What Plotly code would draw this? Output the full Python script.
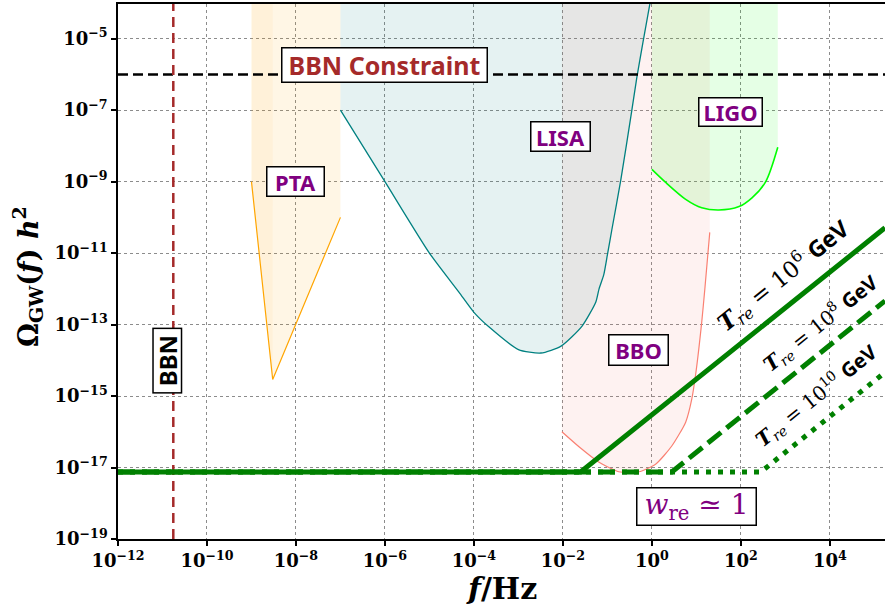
import plotly.graph_objects as go

# ---------------- data ----------------
# Sensitivity curves: frequency [Hz] and Omega_GW h^2
pta_f = [1e-9, 3.0e-9, 1e-7]
pta_omega = [1e-9, 2.9e-15, 1e-10]

lisa_f = [1e-7, 1e-6, 1e-5, 4.6e-5, 1e-4, 2.2e-4, 1e-3, 3.2e-3, 9.1e-3, 2.7e-2,
          5.5e-2, 6.5e-2, 8.3e-2, 0.1, 0.126, 0.2, 0.355, 0.457, 0.63, 0.91]
lisa_omega = [1e-7, 1e-9, 1e-11, 8.1e-13, 2.2e-13, 8.5e-14, 2.0e-14, 1.6e-14, 2.5e-14, 9.1e-14,
              4.3e-13, 1e-12, 2.5e-12, 8.9e-12, 4.5e-11, 1.1e-9, 1e-7, 7.9e-7, 7.9e-6, 1e-4]

bbo_f = [9.5e-3, 2.3e-2, 6.5e-2, 0.18, 0.51, 1.23, 2.8, 5.75, 7.9, 9.8, 13.2, 15.5, 20.0]
bbo_omega = [1e-16, 3.8e-17, 1.4e-17, 7.6e-18, 7.6e-18, 1.26e-17, 4e-17, 1.86e-16,
             8.3e-16, 4.7e-15, 1.17e-13, 9.8e-13, 3.8e-11]

ligo_f = [1.0, 2.04, 5.75, 13.2, 32.0, 91.0, 178.0, 363.0, 676.0]
ligo_omega = [2.2e-9, 9.5e-10, 3.2e-10, 1.86e-10, 1.6e-10, 2.0e-10, 3.5e-10, 1e-9, 9.1e-9]

# Reheating spectra (w_re ~ 1) for three reheating temperatures
f_Tre6 = [1e-12, 2.5e-2, 1.74e5]
omega_Tre6 = [7.5e-18, 7.5e-18, 5.1e-11]
f_Tre8 = [1e-12, 2.8, 1.74e5]
omega_Tre8 = [7.5e-18, 7.5e-18, 4.6e-13]
f_Tre10 = [1e-12, 2.8e2, 1.74e5]
omega_Tre10 = [7.5e-18, 7.5e-18, 4.6e-15]

# Constraints
bbn_constraint_omega = 1e-6
bbn_frequency = 1.75e-11

# axis ranges / ticks
f_min, f_max = 1e-12, 1.74e5
omega_min, omega_top = 1e-19, 1e-4
x_tick_exps = [-12, -10, -8, -6, -4, -2, 0, 2, 4]
y_tick_exps = [-19, -17, -15, -13, -11, -9, -7, -5]

# ---------------- figure ----------------
fig = go.Figure()


def add_region(f, om, color_rgba):
    xs = list(f) + [f[-1], f[0], f[0]]
    ys = list(om) + [omega_top, omega_top, om[0]]
    fig.add_trace(go.Scatter(x=xs, y=ys, mode="lines", fill="toself",
                             fillcolor=color_rgba, line=dict(width=0),
                             hoverinfo="skip"))


# filled detector regions
add_region(pta_f, pta_omega, "rgba(255,165,0,0.1)")
add_region(pta_f[:2], pta_omega[:2], "rgba(255,165,0,0.05)")
add_region(lisa_f, lisa_omega, "rgba(0,128,128,0.1)")
add_region(bbo_f, bbo_omega, "rgba(250,128,114,0.1)")
add_region(ligo_f, ligo_omega, "rgba(0,255,0,0.1)")

# sensitivity curves
fig.add_trace(go.Scatter(x=pta_f, y=pta_omega, mode="lines", line=dict(color="orange", width=1.2)))
fig.add_trace(go.Scatter(x=lisa_f, y=lisa_omega, mode="lines",
                         line=dict(color="teal", width=1.3, shape="spline", smoothing=0.6)))
fig.add_trace(go.Scatter(x=bbo_f, y=bbo_omega, mode="lines",
                         line=dict(color="salmon", width=1.2, shape="spline", smoothing=0.6)))
fig.add_trace(go.Scatter(x=ligo_f, y=ligo_omega, mode="lines",
                         line=dict(color="lime", width=1.6, shape="spline", smoothing=0.8)))

# BBN lines
fig.add_trace(go.Scatter(x=[f_min, f_max], y=[bbn_constraint_omega] * 2, mode="lines",
                         line=dict(color="black", width=2.5, dash="10px,5px")))
fig.add_trace(go.Scatter(x=[bbn_frequency] * 2, y=[omega_min, omega_top], mode="lines",
                         line=dict(color="#a52a2a", width=2.5, dash="10px,6px")))

# reheating spectra
fig.add_trace(go.Scatter(x=f_Tre6, y=omega_Tre6, mode="lines", line=dict(color="green", width=5)))
fig.add_trace(go.Scatter(x=f_Tre8, y=omega_Tre8, mode="lines",
                         line=dict(color="green", width=5, dash="17px,7px")))
fig.add_trace(go.Scatter(x=f_Tre10, y=omega_Tre10, mode="lines",
                         line=dict(color="green", width=5, dash="5px,7px")))

axis_common = dict(type="log", showline=True, linecolor="black", linewidth=1.5,
                   ticks="outside", ticklen=5, tickwidth=1.5, tickcolor="black",
                   showgrid=True, gridcolor="#8c8c8c", griddash="dot", gridwidth=1,
                   zeroline=False,
                   tickfont=dict(family="DejaVu Serif", size=18, color="black", weight="bold"))

fig.update_layout(
    width=885, height=608, autosize=False,
    margin=dict(l=118, r=0, t=4, b=69),
    paper_bgcolor="white", plot_bgcolor="white", showlegend=False,
    xaxis=dict(range=[-12, 5.24], mirror=True,
               tickvals=[10.0 ** e for e in x_tick_exps],
               ticktext=["10<sup>%s</sup>" % str(e).replace("-", "−") for e in x_tick_exps],
               **axis_common),
    yaxis=dict(range=[-19, -4.03], mirror=False,
               tickvals=[10.0 ** e for e in y_tick_exps],
               ticktext=["10<sup>%s</sup>" % str(e).replace("-", "−") for e in y_tick_exps],
               **axis_common),
)

box = dict(bgcolor="white", bordercolor="black", borderwidth=1.5, borderpad=2,
           showarrow=False, xref="x", yref="y", xanchor="center", yanchor="middle")
sans_b = dict(family="Noto Sans", weight="bold")

labels = [
    ("PTA", -8.0, -9.0, 22, "purple", 52, 24, 0),
    ("LISA", -2.06, -7.73, 22, "purple", 54, 24, 0),
    ("LIGO", 1.76, -7.04, 22, "purple", 58, 23, 0),
    ("BBO", -0.30, -13.70, 22, "purple", 54, 25, 0),
    ("BBN Constraint", -6.02, -5.73, 25, "#a52a2a", 200, 29, 0),
    ("BBN", -10.9, -14.01, 24, "black", 59, 23, -90),
]
for txt, x, y, size, col, w, h, ang in labels:
    fig.add_annotation(text=txt, x=x, y=y, width=w, height=h, textangle=ang,
                       font=dict(size=size, color=col, **sans_b), **box)

fig.add_annotation(text="<i>w</i><sub>re</sub> ≃ 1", x=1.0, y=-18.1, width=114, height=32,
                   font=dict(family="DejaVu Serif", size=28, color="purple"), **box)

gev = "<span style='font-family:Noto Sans'><b>GeV</b></span>"
tre_labels = [
    ("6", 2.95, -11.64, 23),
    ("8", 3.80, -12.98, 20),
    ("10", 3.68, -15.0, 20),
]
for p, x, y, size in tre_labels:
    fig.add_annotation(text="<b><i>T</i></b><sub><i>re</i></sub> = 10<sup>%s</sup> %s" % (p, gev),
                       x=x, y=y, textangle=-38.8, showarrow=False, xref="x", yref="y",
                       xanchor="center", yanchor="middle",
                       font=dict(family="DejaVu Serif", size=size, color="black"))

# axis titles
fig.add_annotation(text="<b><i>f</i>/Hz</b>", x=0.5, y=-0.093, xref="paper", yref="paper",
                   xanchor="center", yanchor="middle", showarrow=False,
                   font=dict(family="DejaVu Serif", size=30, color="black"))
fig.add_annotation(text="<b>Ω<sub>GW</sub>(<i>f</i>) <i>h</i><sup>2</sup></b>", x=-0.117, y=0.49,
                   xref="paper", yref="paper", textangle=-90, showarrow=False,
                   xanchor="center", yanchor="middle",
                   font=dict(family="DejaVu Serif", size=27, color="black"))

fig.write_html("out.html", config={"displayModeBar": False},
               post_script="document.body.style.margin='0px';document.body.style.overflow='hidden';")
